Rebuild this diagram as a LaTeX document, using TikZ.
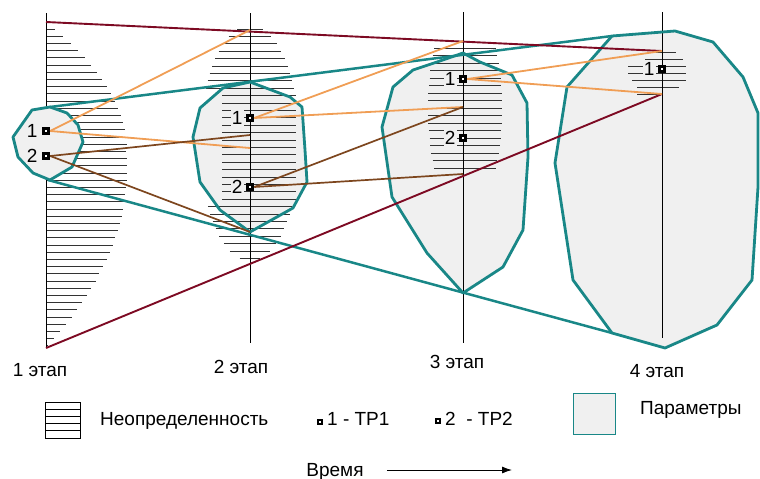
\documentclass[tikz,border=0pt]{standalone}
\usepackage{fontspec}
\setmainfont{Liberation Sans}
\usetikzlibrary{arrows.meta,positioning}

\definecolor{tealline}{RGB}{25,135,135}
\definecolor{paramfill}{RGB}{240,240,240}
\definecolor{lineorange}{RGB}{240,158,85}
\definecolor{linebrown}{RGB}{125,70,30}
\definecolor{linered}{RGB}{125,10,35}

% outlines of the parameter regions
\newcommand{\regionA}{(50,107) -- (67,113) -- (78,125) -- (83,142) -- (72,167) -- (50,180) -- (33,173) -- (18,157) -- (13,137) -- (32,110) -- cycle}
\newcommand{\regionB}{(250,82) -- (290,97) -- (302,107) -- (305,150) -- (307,182) -- (293,208) -- (250,232) -- (220,210) -- (200,182) -- (193,137) -- (200,108) -- (223,88) -- cycle}
\newcommand{\regionC}{(463,53) -- (480,62) -- (512,75) -- (527,103) -- (528,157) -- (523,230) -- (503,267) -- (463,293) -- (427,253) -- (392,197) -- (382,127) -- (393,87) -- (413,70) -- (437,62) -- cycle}
\newcommand{\regionD}{(612,36) -- (675,31) -- (713,42) -- (743,77) -- (758,113) -- (758,187) -- (752,280) -- (717,325) -- (665,348) -- (612,333) -- (573,280) -- (555,163) -- (567,87) -- cycle}

\tikzset{
  axis/.style={black, line width=0.8pt},
  hatch/.style={black!80, line width=0.9pt},
  paramline/.style={draw=tealline, line width=2.8pt, line join=round},
  cone/.style={tealline, line width=2.5pt},
  bound/.style={linered, line width=1.9pt},
  tr1/.style={lineorange, line width=1.8pt},
  tr2/.style={linebrown, line width=1.7pt},
  tp/.style={draw=black, fill=white, line width=3pt, minimum size=5.5pt, inner sep=0pt},
  num/.style={font=\fontsize{19}{21}\selectfont, inner sep=1pt, fill=paramfill},
  lbl/.style={font=\fontsize{19}{21}\selectfont, inner sep=0pt},
}

\begin{document}
\begin{tikzpicture}[x=1pt,y=-1pt]
\useasboundingbox (0,0) rectangle (760,479);

% parameter regions, fill only
\fill[paramfill] \regionB;
\fill[paramfill] \regionC;
\fill[paramfill] \regionD;

% uncertainty, stage 1
\foreach \y in {29,36.2,...,346} {
  \pgfmathsetmacro\t{\y<150 ? (150-\y)/128 : (\y-170)/178}
  \draw[hatch] (46,\y) -- ++({81*(1-\t*\t)},0);
}
% uncertainty, stage 2
\foreach \y in {29,36.4,...,259} {
  \pgfmathsetmacro\t{(\y-143)/118}
  \pgfmathsetmacro\w{min(50*sqrt(1-\t*\t), (\y>92 && \y<200) ? 37 : 60)}
  \pgfmathsetmacro\c{(\y>92 && \y<200) ? 259 : 250}
  \draw[hatch] ({\c-\w},\y) -- ({\c+\w},\y);
}
% uncertainty, stage 3
\foreach \y in {48,55.5,...,169} {
  \pgfmathsetmacro\t{(\y-108)/60}
  \pgfmathsetmacro\w{37-6*\t*\t}
  \draw[hatch] ({465-\w},\y) -- ({465+\w},\y);
}
% uncertainty, stage 4
\foreach \y/\l/\r in {52/652/676, 59/645/683, 66/628/686, 73/628/686, 80/632/686, 87/637/679, 94/637/663}
  \draw[hatch] (\l,\y) -- (\r,\y);

% time axes of the stages
\draw[axis] (46,13) -- (46,348);
\draw[axis] (250,13) -- (250,343);
\draw[axis] (463,12) -- (463,343);
\draw[axis] (662,12) -- (662,338);

\draw[paramline] \regionB;
\draw[paramline] \regionC;
\draw[paramline] \regionD;

% end points of the lines
\coordinate (up1) at (46,22);
\coordinate (dn1) at (46,348);
\coordinate (c1n) at (50,107);
\coordinate (c1s) at (48,180);
\coordinate (top2) at (250,30);
\coordinate (mid2a) at (250,148);
\coordinate (mid2b) at (250,135);
\coordinate (bot2) at (250,232);
\coordinate (top3) at (463,41);
\coordinate (mid3) at (463,107);
\coordinate (low3) at (463,174);
\coordinate (top4) at (662,51);
\coordinate (low4) at (662,94);
\coordinate (d1nw) at (612,36);
\coordinate (d1sw) at (612,333);

\draw[cone] (c1n) -- (d1nw);
\draw[cone] (c1s) -- (d1sw);
\draw[bound] (up1) -- (top4);
\draw[bound] (dn1) -- (low4);

\draw[paramline, fill=paramfill] \regionA;

% technical solutions
\node[tp] (a1) at (46,131) {};
\node[num, left=3pt of a1] {1};
\node[tp] (a2) at (46,156) {};
\node[num, left=3pt of a2] {2};
\node[tp] (b1) at (250,118) {};
\node[num, left=2pt of b1] {1};
\node[tp] (b2) at (250,187) {};
\node[num, left=2pt of b2] {2};
\node[tp] (c1) at (463,79) {};
\node[num, left=2pt of c1] {1};
\node[tp] (c2) at (463,138) {};
\node[num, left=2pt of c2] {2};
\node[tp] (d1) at (662,69) {};
\node[num, left=2pt of d1] {1};

\draw[tr1] (a1.east) -- (top2);
\draw[tr1] (a1.east) -- (mid2a);
\draw[tr2] (a2.east) -- (mid2b);
\draw[tr2] (a2.east) -- (bot2);
\draw[tr1] (b1.east) -- (top3);
\draw[tr1] (b1.east) -- (mid3);
\draw[tr2] (b2.east) -- (mid3);
\draw[tr2] (b2.east) -- (low3);
\draw[tr1] (c1.east) -- (top4);
\draw[tr1] (c1.east) -- (low4);

% stage names
\node[lbl, anchor=base] (st1) at (40,376) {1 этап};
\node[lbl, anchor=base] (st2) at (241,373) {2 этап};
\node[lbl, anchor=base] (st3) at (457,368) {3 этап};
\node[lbl, anchor=base] (st4) at (657,377) {4 этап};

% legend
\draw[black, line width=0.8pt] (45,402) rectangle (80,438);
\foreach \y in {409.2,416.4,423.6,430.8}
  \draw[black, line width=0.8pt] (45,\y) -- (80,\y);
\node[lbl, anchor=base west] (keyhtext) at (100,425) {Неопределенность};
\node[tp, minimum size=4pt, line width=2.8pt] (key1) at (320,422) {};
\node[lbl, anchor=base west] (key1text) at (327,425) {1 - ТР1};
\node[tp, minimum size=4pt, line width=2.8pt] (key2) at (438,421) {};
\node[lbl, anchor=base west] (key2text) at (445,425) {2\ \ - ТР2};
\node[draw=tealline, fill=paramfill, line width=1pt, minimum width=42pt, minimum height=41pt] (keyp) at (594,413.5) {};
\node[lbl, anchor=base west] (keyptext) at (640,414) {Параметры};

\node[lbl, anchor=base] (time) at (335,476) {Время};
\coordinate (timeend) at (512,470);
\draw[black, line width=0.9pt, -{Latex[length=10pt,width=7pt]}] ([xshift=23pt]time.east |- timeend) -- (timeend);
\end{tikzpicture}
\end{document}
